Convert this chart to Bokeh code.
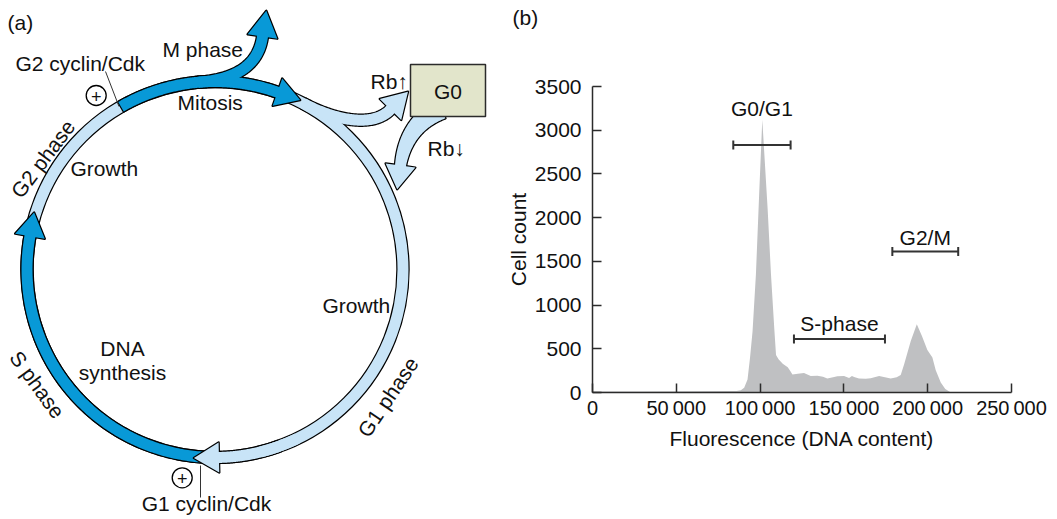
import numpy as np
from bokeh.plotting import figure
from bokeh.layouts import row
from bokeh.models import Range1d, FixedTicker, Title
from bokeh.embed import file_html
from bokeh.resources import INLINE
from bokeh.core.properties import value

# ---------------- data: panel (b) histogram ----------------
fluorescence = [0, 30000, 60000, 86000, 88500, 90500, 92500, 94000, 95500, 97500,
                99500, 101300, 103000, 104500, 106500, 108500, 109500, 111000, 113500,
                116500, 118200, 119300, 122500, 126200, 130200, 134200, 137500, 140100,
                143500, 146100, 150100, 153100, 154800, 156100, 159000, 163000, 166000,
                171000, 174500, 177900, 181500, 183900, 185900, 189900, 193500, 196500,
                199800, 202800, 204800, 207800, 210500, 213800, 250000]
cell_count = [12, 12, 14, 16, 25, 55, 150, 400, 700, 1350,
              2300, 3120, 2580, 2100, 1350, 720, 430, 380, 330,
              290, 240, 205, 215, 222, 190, 192, 180, 160,
              175, 185, 188, 165, 190, 178, 160, 158, 162,
              190, 175, 160, 175, 200, 320, 590, 780, 650,
              485, 400, 255, 115, 40, 0, 0]
y_ticks = [0, 500, 1000, 1500, 2000, 2500, 3000, 3500]
x_ticks = [0, 50000, 100000, 150000, 200000, 250000]
x_tick_labels = ["0", "50\u2009000", "100\u2009000", "150\u2009000", "200\u2009000", "250\u2009000"]
phase_names = ["G0/G1", "S-phase", "G2/M"]
phase_start = [84000, 120200, 178900]
phase_end = [118200, 174500, 218200]
phase_bar_level = [2830, 611, 1613]
phase_label_level = [3174, 714, 1698]

FONT = value("Liberation Sans")
FS = "21px"
TXT = "#111111"
LIGHT = "#c8e4f7"
DARK = "#0899d7"
YOFF = -7  # baseline correction for alphabetic text

# ---------------- panel (a): cell-cycle diagram ----------------
pa = figure(width=501, height=519, x_range=Range1d(0, 501), y_range=Range1d(519, 0),
            output_backend="svg", toolbar_location=None, min_border=0,
            x_axis_location=None, y_axis_location=None)
pa.frame_align = False
pa.grid.visible = False
pa.outline_line_color = None

CX, CY, R, HW = 214.5, 269.0, 188.0, 5.5


def arc_pts(t0, t1, n=160):
    t = np.radians(np.linspace(t0, t1, n))
    return np.column_stack([CX + R * np.cos(t), CY + R * np.sin(t)])


def bezier(p0, p1, p2, p3, n=80):
    t = np.linspace(0, 1, n)[:, None]
    p0, p1, p2, p3 = map(np.array, (p0, p1, p2, p3))
    return (1 - t) ** 3 * p0 + 3 * (1 - t) ** 2 * t * p1 + 3 * (1 - t) * t ** 2 * p2 + t ** 3 * p3


def shape(pts, hw, head=None):
    d = np.gradient(pts, axis=0)
    d = d / np.linalg.norm(d, axis=1)[:, None]
    nrm = np.column_stack([-d[:, 1], d[:, 0]])
    hw = np.broadcast_to(np.asarray(hw, float), (len(pts),))[:, None]
    left = pts + nrm * hw
    right = pts - nrm * hw
    if head:
        L, H = head
        b, u, n = pts[-1], d[-1], nrm[-1]
        hp = np.array([b + n * H, b + u * L, b - n * H])
        poly = np.vstack([left, hp, right[::-1]])
    else:
        poly = np.vstack([left, right[::-1]])
    return list(poly[:, 0]), list(poly[:, 1])


def outline(shapes):
    pa.patches([s[0] for s in shapes], [s[1] for s in shapes], fill_color="black",
               line_color="black", line_width=2.4, line_join="round")


def fill(shapes, color):
    pa.patches([s[0] for s in shapes], [s[1] for s in shapes], fill_color=color,
               line_color=None)


# light group: ring + G0 branches
rb_up = shape(bezier((303, 103), (333, 119), (372, 128), (390, 109)), HW, head=(25, 15))
rb_dn = shape(bezier((440, 108), (420, 118), (404, 135), (400, 165)),
              np.linspace(11, HW, 80), head=(24, 15))
pa.annulus(x=CX, y=CY, inner_radius=R - HW, outer_radius=R + HW, fill_color="black",
           line_color="black", line_width=2.4)
outline([rb_up, rb_dn])
pa.annulus(x=CX, y=CY, inner_radius=R - HW, outer_radius=R + HW, fill_color=LIGHT,
           line_color=None)
fill([rb_up, rb_dn], LIGHT)

# dark group: M phase and S phase
m_arc = shape(arc_pts(240, 289.4), HW, head=(24, 14.5))
m_branch = shape(bezier((198, 81.7), (235, 79), (258, 65), (262, 36)), HW, head=(26, 15))
s_arc = shape(arc_pts(93, 190.2), HW, head=(24, 15))
outline([m_arc, m_branch, s_arc])
fill([m_arc, m_branch, s_arc], DARK)

# light arrowhead at the bottom (G1 -> S)
g1_head = shape(arc_pts(70, 88.8), HW, head=(25, 15))
outline([g1_head])
fill([g1_head], LIGHT)
fill([shape(arc_pts(64, 76), HW)], LIGHT)

# G0 box
pa.quad(left=410, right=485, top=64, bottom=116, fill_color="#e2e5cb",
        line_color="#2b2b2b", line_width=1.5)

# leader lines and plus circles
pa.segment(x0=[105, 200], y0=[71, 465], x1=[118.5, 200], y1=[106, 497],
           line_color="#333333", line_width=1)
pa.circle(x=[95.7, 181.7], y=[95, 477.3], radius=10, fill_color="white",
          line_color="black", line_width=1.3)
pa.text(x=[95.7, 181.7], y=[96, 478.3], text=["+", "+"], text_align="center",
        text_baseline="middle", text_font=FONT, text_font_size="18px", text_color=TXT)


def t(x, y, s, align="left", baseline="alphabetic", angle=0.0):
    off = YOFF if baseline == "alphabetic" else 0
    pa.text(x=[x], y=[y], text=[s], text_align=align, text_baseline=baseline,
            angle=np.radians(angle), y_offset=off, text_font=FONT, text_font_size=FS,
            text_color=TXT)


t(7, 28.5, "(a)")
t(15, 70, "G2 cyclin/Cdk")
t(162, 56, "M phase")
t(177, 109, "Mitosis")
t(370, 88, "Rb\u2191")
t(447.5, 98, "G0", align="center")
t(427, 155, "Rb\u2193")
t(70, 175, "Growth")
t(322, 312, "Growth")
t(122, 355, "DNA", align="center")
t(122, 379, "synthesis", align="center")
t(206, 509.5, "G1 cyclin/Cdk", align="center")
t(42.5, 158.3, "G2 phase", align="center", baseline="middle", angle=53)
t(36.7, 384, "S phase", align="center", baseline="middle", angle=-54)
t(387.5, 396.5, "G1 phase", align="center", baseline="middle", angle=56)

# ---------------- panel (b): DNA content histogram ----------------
pb = figure(width=556, height=519, x_range=Range1d(0, 250000), y_range=Range1d(0, 3500),
            output_backend="svg", toolbar_location=None,
            min_border_left=91, min_border_right=46, min_border_top=86, min_border_bottom=127)
pb.frame_align = False
pb.grid.visible = False
pb.outline_line_color = None

pb.varea(x=fluorescence, y1=0, y2=cell_count, fill_color="#bfc0c2")

mid = [(a + b) / 2 for a, b in zip(phase_start, phase_end)]
pb.segment(x0=phase_start, y0=phase_bar_level, x1=phase_end, y1=phase_bar_level,
           line_color="#333333", line_width=2)
pb.scatter(x=phase_start + phase_end, y=phase_bar_level + phase_bar_level, marker="dash",
           angle=np.pi / 2, size=9, line_color="#333333", line_width=2)
pb.text(x=mid, y=phase_label_level, text=phase_names, text_align="center",
        text_baseline="alphabetic", y_offset=YOFF, text_font=FONT, text_font_size=FS,
        text_color=TXT)

pb.xaxis.ticker = FixedTicker(ticks=x_ticks)
pb.xaxis.major_label_overrides = dict(zip(x_ticks, x_tick_labels))
pb.yaxis.ticker = FixedTicker(ticks=y_ticks)
pb.xaxis.axis_label = "Fluorescence (DNA content)"
pb.yaxis.axis_label = "Cell count"
for ax in (pb.xaxis, pb.yaxis):
    ax.major_tick_in = 9
    ax.major_tick_out = 0
    ax.minor_tick_in = 0
    ax.minor_tick_out = 0
    ax.axis_line_color = "#2b2b2b"
    ax.axis_line_width = 1.5
    ax.major_tick_line_color = "#2b2b2b"
    ax.major_tick_line_width = 1.5
    ax.major_label_text_font = "Liberation Sans"
    ax.major_label_text_font_size = FS
    ax.major_label_text_color = TXT
    ax.axis_label_text_font = "Liberation Sans"
    ax.axis_label_text_font_size = FS
    ax.axis_label_text_font_style = "normal"
    ax.axis_label_text_color = TXT
pb.xaxis.major_label_text_font_size = "20px"
pb.xaxis.major_label_standoff = 4
pb.xaxis.axis_label_standoff = 5
pb.yaxis.major_label_standoff = 11
pb.yaxis.axis_label_standoff = 2

pb.add_layout(Title(text="(b)\n \n ", align="left", offset=-80, standoff=0,
                    vertical_align="bottom", text_line_height=1.25,
                    text_font="Liberation Sans", text_font_size=FS,
                    text_font_style="normal", text_color=TXT), "above")

layout = row(pa, pb)
open("out.html", "w").write(file_html(layout, INLINE))
